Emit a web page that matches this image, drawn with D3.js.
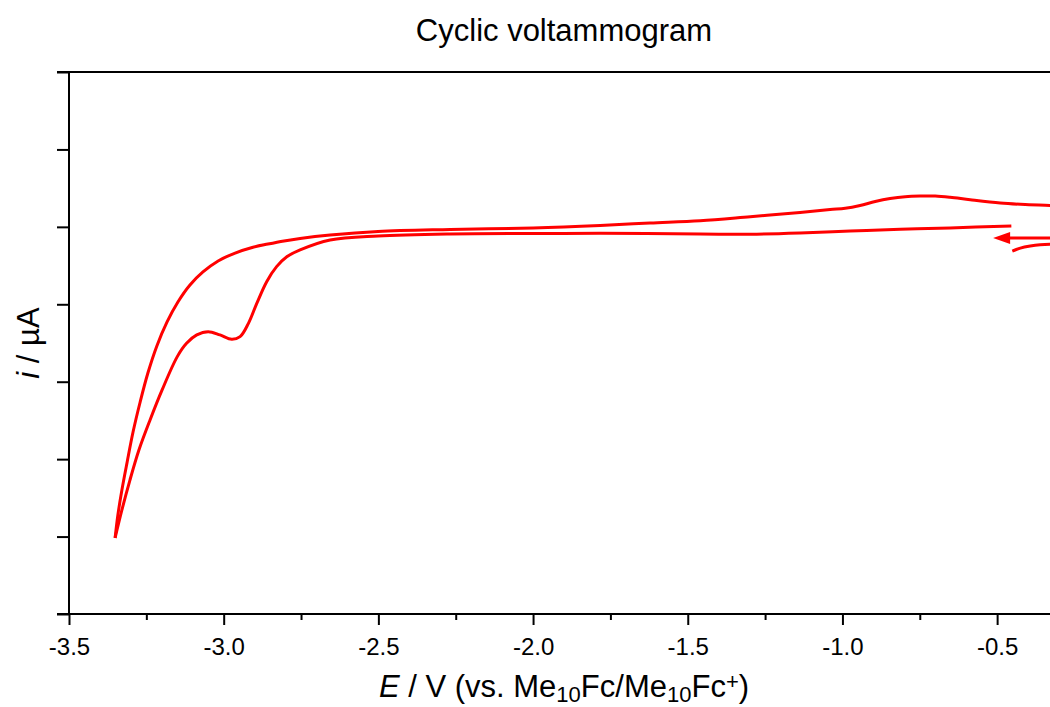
<!DOCTYPE html>
<html>
<head>
<meta charset="utf-8">
<script src="https://cdn.jsdelivr.net/npm/d3@7"></script>
<style>
  html, body { margin: 0; padding: 0; background: #fff; }
  svg { display: block; }
</style>
</head>
<body>
<script>
// Axis ranges and ticks
const xDomain = [-3.5, -0.3];
const yDomain = [-30, 5];
const xMajorTicks = [-3.5, -3.0, -2.5, -2.0, -1.5, -1.0, -0.5];
const xMinorTicks = [-3.25, -2.75, -2.25, -1.75, -1.25, -0.75];
const yTicks = [-30, -25, -20, -15, -10, -5, 0, 5];

// Cathodic sweep: from the start potential down to the switching potential
const forwardE = [-0.454, -0.652, -0.813, -0.975, -1.137, -1.298, -1.460, -1.783, -2.000, -2.268,
                  -2.501, -2.656, -2.753, -2.796, -2.829, -2.861, -2.893, -2.920, -2.947, -2.974,
                  -3.012, -3.050, -3.087, -3.120, -3.150, -3.199, -3.238, -3.274, -3.303, -3.329, -3.351];
const forwardI = [-4.94, -5.07, -5.16, -5.27, -5.40, -5.48, -5.46, -5.42, -5.43, -5.46,
                  -5.59, -5.85, -6.49, -6.93, -7.57, -8.54, -9.94, -11.23, -12.09, -12.26,
                  -11.98, -11.77, -11.98, -12.52, -13.38, -15.53, -17.47, -19.41, -21.35, -23.28, -25.09];

// Anodic sweep: from the switching potential back to positive potentials
const reverseE = [-3.351, -3.342, -3.329, -3.312, -3.293, -3.270, -3.245, -3.216, -3.183, -3.148,
                  -3.109, -3.067, -3.018, -2.963, -2.908, -2.857, -2.805, -2.753, -2.656, -2.501,
                  -2.268, -2.000, -1.783, -1.622, -1.460, -1.298, -1.137, -1.040, -0.991, -0.943,
                  -0.894, -0.846, -0.797, -0.749, -0.700, -0.652, -0.587, -0.490, -0.409, -0.328, -0.280];
const reverseI = [-25.09, -23.61, -21.99, -20.18, -18.25, -16.31, -14.44, -12.69, -11.14, -9.85,
                  -8.75, -7.91, -7.20, -6.69, -6.33, -6.11, -5.91, -5.75, -5.53, -5.30,
                  -5.17, -5.07, -4.91, -4.75, -4.60, -4.34, -4.07, -3.88, -3.80, -3.62,
                  -3.36, -3.17, -3.05, -3.01, -3.01, -3.09, -3.25, -3.46, -3.56, -3.62, -3.65];

// Initial segment near the start potential
const leadE = [-0.451, -0.425, -0.393, -0.361, -0.328, -0.296];
const leadI = [-6.56, -6.37, -6.24, -6.16, -6.13, -6.14];

// Scan-direction arrow (tail, tip)
const arrowE = [-0.28, -0.513];
const arrowI = [-5.72, -5.72];

const W = 1050, H = 707;
const margin = { left: 69, top: 72, right: 1059, bottom: 614 };
const red = "#ff0000";
const font = "'Liberation Sans', Arial, Helvetica, sans-serif";

const svg = d3.select("body").append("svg")
  .attr("width", W).attr("height", H)
  .attr("viewBox", `0 0 ${W} ${H}`)
  .style("font-family", font);

const x = d3.scaleLinear().domain(xDomain).range([margin.left, margin.right]);
const y = d3.scaleLinear().domain(yDomain).range([margin.bottom, margin.top]);

svg.append("defs").append("clipPath").attr("id", "plot-clip")
  .append("rect")
  .attr("x", margin.left).attr("y", margin.top)
  .attr("width", margin.right - margin.left).attr("height", margin.bottom - margin.top);

// Bottom axis: labelled major ticks plus minor ticks
const xAxis = svg.append("g")
  .attr("transform", `translate(0,${margin.bottom})`)
  .call(d3.axisBottom(x).tickValues(xMajorTicks).tickSize(11).tickSizeOuter(0)
        .tickPadding(13).tickFormat(d => d.toFixed(1)));
xAxis.select(".domain").remove();
xAxis.selectAll(".tick line").attr("stroke", "#000").attr("stroke-width", 2);
xAxis.selectAll(".tick text").attr("fill", "#000").style("font-size", "24px")
  .style("font-family", font);

const xMinor = svg.append("g")
  .attr("transform", `translate(0,${margin.bottom})`)
  .call(d3.axisBottom(x).tickValues(xMinorTicks).tickSize(6).tickSizeOuter(0).tickFormat(""));
xMinor.select(".domain").remove();
xMinor.selectAll(".tick line").attr("stroke", "#000").attr("stroke-width", 2);

// Left axis: unlabelled ticks
const yAxis = svg.append("g")
  .attr("transform", `translate(${margin.left},0)`)
  .call(d3.axisLeft(y).tickValues(yTicks).tickSize(12).tickSizeOuter(0).tickFormat(""));
yAxis.select(".domain").remove();
yAxis.selectAll(".tick line").attr("stroke", "#000").attr("stroke-width", 2);

// Frame
const frame = svg.append("g").attr("stroke", "#000").attr("stroke-width", 2).attr("fill", "none");
frame.append("line").attr("x1", margin.left).attr("x2", margin.left)
  .attr("y1", margin.top - 1).attr("y2", margin.bottom + 1);
frame.append("line").attr("x1", margin.left - 12).attr("x2", margin.right)
  .attr("y1", margin.bottom).attr("y2", margin.bottom);
frame.append("line").attr("x1", margin.left - 12).attr("x2", margin.right)
  .attr("y1", margin.top).attr("y2", margin.top);
frame.append("line").attr("x1", margin.right).attr("x2", margin.right)
  .attr("y1", margin.top).attr("y2", margin.bottom);

// Curves
const line = d3.line().x(d => x(d[0])).y(d => y(d[1])).curve(d3.curveCatmullRom.alpha(0.5));
const zip = (a, b) => a.map((v, i) => [v, b[i]]);

const plot = svg.append("g").attr("clip-path", "url(#plot-clip)");
[zip(forwardE, forwardI), zip(reverseE, reverseI), zip(leadE, leadI)].forEach(pts => {
  plot.append("path")
    .attr("d", line(pts))
    .attr("fill", "none")
    .attr("stroke", red)
    .attr("stroke-width", 3)
    .attr("stroke-linejoin", "round")
    .attr("stroke-linecap", "butt");
});

// Scan direction arrow
const tipX = x(arrowE[1]), tipY = y(arrowI[1]);
const headLen = 17, headHalf = 6;
plot.append("line")
  .attr("x1", x(arrowE[0])).attr("y1", y(arrowI[0]))
  .attr("x2", tipX + headLen - 1).attr("y2", tipY)
  .attr("stroke", red).attr("stroke-width", 3);
plot.append("path")
  .attr("d", `M${tipX},${tipY}L${tipX + headLen},${tipY - headHalf}L${tipX + headLen},${tipY + headHalf}Z`)
  .attr("fill", red);

// Title
svg.append("text")
  .attr("x", (margin.left + margin.right) / 2).attr("y", 41)
  .attr("text-anchor", "middle")
  .style("font-size", "31px")
  .text("Cyclic voltammogram");

// X axis title
const xt = svg.append("text")
  .attr("x", (margin.left + margin.right) / 2).attr("y", 697)
  .attr("text-anchor", "middle")
  .style("font-size", "31px");
xt.append("tspan").style("font-style", "italic").text("E");
xt.append("tspan").text(" / V (vs. Me");
xt.append("tspan").attr("baseline-shift", "-22%").style("font-size", "22px").text("10");
xt.append("tspan").text("Fc/Me");
xt.append("tspan").attr("baseline-shift", "-22%").style("font-size", "22px").text("10");
xt.append("tspan").text("Fc");
xt.append("tspan").attr("baseline-shift", "38%").style("font-size", "22px").text("+");
xt.append("tspan").text(")");

// Y axis title
const yt = svg.append("text")
  .attr("transform", `translate(39,${(margin.top + margin.bottom) / 2}) rotate(-90)`)
  .attr("text-anchor", "middle")
  .style("font-size", "31px");
yt.append("tspan").style("font-style", "italic").text("i");
yt.append("tspan").text(" / \u00b5A");
</script>
</body>
</html>
